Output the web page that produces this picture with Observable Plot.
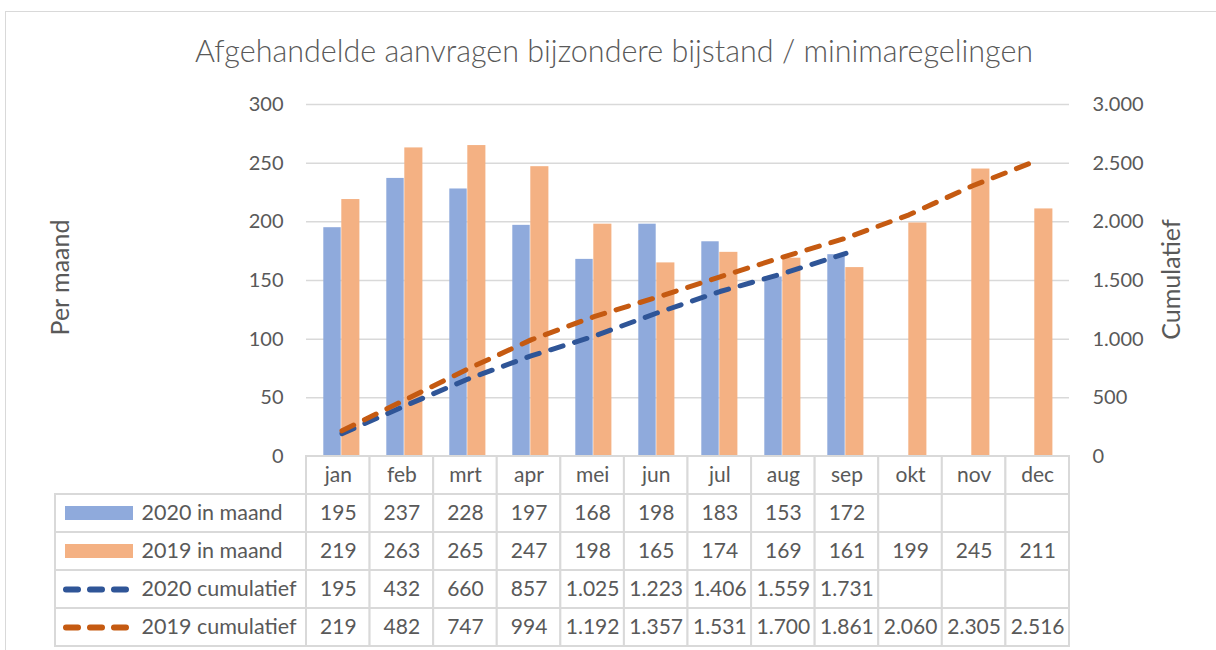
<!DOCTYPE html>
<html><head><meta charset="utf-8">
<script src="https://cdn.jsdelivr.net/npm/d3@7"></script>
<script src="https://cdn.jsdelivr.net/npm/@observablehq/plot@0.6"></script>
<style>
body{margin:0;background:#fff;font-family:Lato,"Open Sans",sans-serif;}
#wrap{position:relative;width:1216px;height:650px;overflow:hidden;}
#frame{position:absolute;left:5px;top:11px;width:1300px;height:700px;border:1px solid #d9d9d9;}
#title{position:absolute;left:0;width:1228px;top:32px;text-align:center;font-size:30.5px;line-height:1.2;color:#595959;font-weight:300;white-space:nowrap;}
#chart,#table{position:absolute;left:0;}
#chart{top:0}
#table{top:455px}
svg{overflow:visible}
</style></head><body>
<div id="wrap"><div id="frame"></div><div id="title">Afgehandelde aanvragen bijzondere bijstand / minimaregelingen</div><div id="chart"></div><div id="table"></div></div>
<script>
const months = ["jan","feb","mrt","apr","mei","jun","jul","aug","sep","okt","nov","dec"];
const maand2020 = [195,237,228,197,168,198,183,153,172];
const maand2019 = [219,263,265,247,198,165,174,169,161,199,245,211];
const cum2020 = [195,432,660,857,1025,1223,1406,1559,1731];
const cum2019 = [219,482,747,994,1192,1357,1531,1700,1861,2060,2305,2516];
const seriesNames = ["2020 in maand","2019 in maand","2020 cumulatief","2019 cumulatief"];
const leftTicks = [0,50,100,150,200,250,300];
const rightTicks = [0,500,1000,1500,2000,2500,3000];

const C_BLUE = "#8FAADC", C_ORANGE = "#F4B183", C_BLUE_L = "#2F5597", C_ORANGE_L = "#C55A11";
const TXT = "#595959", GRID = "#d9d9d9";
const FONT = "Lato, 'Open Sans', sans-serif";
const fmt = d => d3.format(",")(d).replace(/,/g, ".");
const toRows = arr => arr.map((v, i) => ({month: months[i], i, value: v}));

const d2020 = toRows(maand2020), d2019 = toRows(maand2019);
const c2020 = toRows(cum2020), c2019 = toRows(cum2019);
const RATIO = 10; // secondary axis ratio

const chart = Plot.plot({
  width: 1216, height: 458,
  marginLeft: 306, marginRight: 147, marginTop: 104, marginBottom: 2,
  style: {fontFamily: FONT, fontSize: "20px", color: TXT, background: "transparent", overflow: "visible"},
  x: {type: "band", domain: months, padding: 0, axis: null},
  y: {domain: [0, 300], ticks: leftTicks, tickSize: 0, tickPadding: 23, label: null, tickFormat: fmt},
  marks: [
    Plot.ruleY(leftTicks.filter(d => d > 0), {stroke: GRID, strokeWidth: 1.5}),
    Plot.barY(d2020, {x: "month", y: "value", fill: C_BLUE, insetLeft: 13.3, insetRight: 32.3}),
    Plot.barY(d2019, {x: "month", y: "value", fill: C_ORANGE, insetLeft: 31.3, insetRight: 13.6}),
    Plot.line(c2020, {x: "month", y: d => d.value / RATIO, stroke: C_BLUE_L, strokeWidth: 5, strokeDasharray: "13,12", strokeLinecap: "round"}),
    Plot.line(c2019, {x: "month", y: d => d.value / RATIO, stroke: C_ORANGE_L, strokeWidth: 5, strokeDasharray: "13,12", strokeLinecap: "round"}),
    Plot.text(rightTicks, {frameAnchor: "right", y: d => d / RATIO, text: fmt, dx: 23, textAnchor: "start", fill: TXT}),
    Plot.text(["Per maand"], {frameAnchor: "left", text: d => d, dx: -246, dy: -3, rotate: -90, textAnchor: "middle", fontSize: 25, fill: TXT}),
    Plot.text(["Cumulatief"], {frameAnchor: "right", text: d => d, dx: 102, dy: -1, rotate: -90, textAnchor: "middle", fontSize: 25, fill: TXT})
  ]
});
document.getElementById("chart").append(chart);

// Table
const colW = (1216 - 306 - 147) / 12;
const LBL = (306 - 55) / colW;          // label column width in month-column units
const px = p => p / colW;               // pixel offset to column units
const rows = ["hdr", ...seriesNames];
const cells = rows.flatMap(r => months.map((m, i) => ({row: r, i})));
const values = [maand2020, maand2019, cum2020, cum2019];
const valueCells = seriesNames.flatMap((s, k) => values[k].map((v, i) => ({row: s, i, v})));

const table = Plot.plot({
  width: 1216, height: 194,
  marginLeft: 55, marginRight: 147, marginTop: 1, marginBottom: 3,
  style: {fontFamily: FONT, fontSize: "21px", color: TXT, background: "transparent", overflow: "visible"},
  x: {domain: [-LBL, 12], axis: null},
  y: {type: "band", domain: rows, padding: 0, axis: null},
  marks: [
    Plot.barX(cells, {x1: d => d.i, x2: d => d.i + 1, y: "row", fill: "white", stroke: GRID, strokeWidth: 2}),
    Plot.barX(seriesNames, {x1: () => -LBL, x2: () => 0, y: d => d, fill: "white", stroke: GRID, strokeWidth: 2}),
    Plot.text(months, {x: (d, i) => i + 0.5, y: () => "hdr", text: d => d, fill: TXT}),
    Plot.text(valueCells, {x: d => d.i + 0.5, y: "row", text: d => fmt(d.v), fill: TXT}),
    Plot.barX(seriesNames.slice(0, 2), {x1: () => -LBL + px(10), x2: () => -LBL + px(78), y: d => d,
      fill: (d, i) => [C_BLUE, C_ORANGE][i], insetTop: 12, insetBottom: 12}),
    Plot.ruleY(seriesNames.slice(2), {x1: () => -LBL + px(11), x2: () => -LBL + px(71), y: d => d,
      stroke: (d, i) => [C_BLUE_L, C_ORANGE_L][i], strokeWidth: 6, strokeDasharray: "12,12", strokeLinecap: "round"}),
    Plot.text(seriesNames, {x: () => -LBL, y: d => d, text: d => d, dx: 86, textAnchor: "start", fontSize: 21.5, fill: TXT})
  ]
});
document.getElementById("table").append(table);
</script>
</body></html>
